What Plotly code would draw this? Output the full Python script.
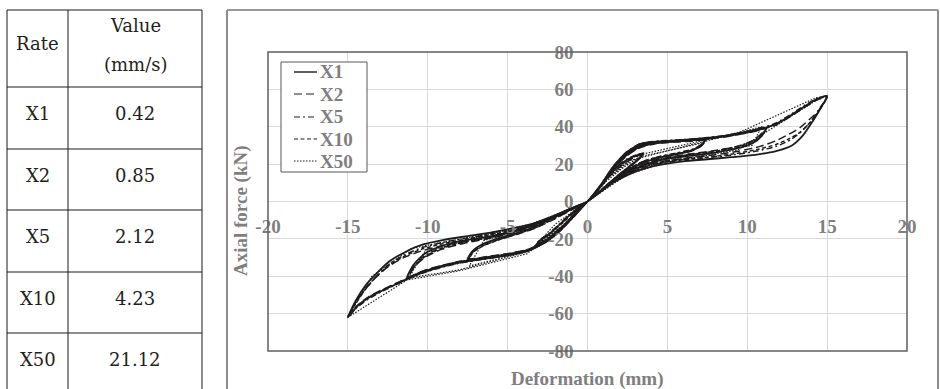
import plotly.graph_objects as go

# ---------------------------------------------------------------------------
# Loading-rate table
# ---------------------------------------------------------------------------
rate_names = ["X1", "X2", "X5", "X10", "X50"]
rate_values = ["0.42", "0.85", "2.12", "4.23", "21.12"]

# Axis ticks
x_ticks = [-20, -15, -10, -5, 0, 5, 10, 15, 20]
y_ticks = [-80, -60, -40, -20, 0, 20, 40, 60, 80]

# ---------------------------------------------------------------------------
# Hysteresis paths (deformation mm, axial force kN), one list per rate.
# Each path runs through the ±3.5, ±7.5, ±11.25 and ±15 mm cycles.
# ---------------------------------------------------------------------------
x1_path = [
    (0, 0), (0.8, 8), (1.6, 16.5), (2.4, 22), (3.0, 24.5), (3.5, 26),
    (3.2, 22.5), (2.6, 18.5), (1.8, 13), (1.0, 7), (0.4, 2.5), (0, 0),
    (-0.7, -6), (-1.4, -12.5), (-2.1, -18.5), (-2.8, -22.5), (-3.3, -24.5),
    (-3.0, -21), (-2.4, -17.5), (-1.7, -12), (-1.0, -6.5), (-0.4, -2.5), (0, 0),
    (0.8, 8.5), (1.6, 17.5), (2.4, 24.5), (3.2, 29), (4.2, 31.3), (5.5, 32.2), (6.5, 32.7), (7.4, 33.3),
    (7.1, 30), (6.5, 27.2), (5.6, 25.3), (4.5, 23.4), (3.5, 20.8), (2.5, 16.3), (1.5, 10.3), (0.7, 4.5), (0, 0),
    (-0.8, -7), (-1.6, -14), (-2.5, -20.5), (-3.5, -25.5), (-4.8, -28), (-6.1, -29.6), (-7.5, -31),
    (-7.2, -26.5), (-6.6, -23), (-5.7, -20), (-4.5, -17), (-3.3, -13.5), (-2.2, -9), (-1.1, -4.5), (0, 0),
    (0.8, 8.5), (1.6, 18), (2.4, 25.5), (3.3, 30.5), (4.5, 32), (6, 32.8), (7.5, 33.8), (8.8, 35.2), (10, 37.3), (11.2, 39.5),
    (10.9, 35), (10.3, 31), (9.4, 28.5), (8, 26.2), (6.5, 24.5), (5, 22.8), (3.8, 20.3), (2.6, 16), (1.5, 10), (0.6, 4), (0, 0),
    (-0.8, -7.5), (-1.7, -15), (-2.6, -21.5), (-3.7, -26), (-5, -28.7), (-6.5, -30.5), (-8, -32.5), (-9.5, -35.5), (-10.5, -38.3), (-11.3, -41),
    (-10.9, -34), (-10.2, -28), (-9.2, -24), (-7.8, -21), (-6, -18.5), (-4.5, -15.5), (-3.2, -12), (-2, -7.5), (-1, -3.5), (0, 0),
    (0.8, 8.5), (1.6, 18.5), (2.4, 26), (3.3, 30.8), (4.5, 32.2), (6, 32.9), (7.5, 34), (9, 35.6), (10.5, 38), (11.8, 41.5),
    (12.8, 46.5), (13.6, 51), (14.4, 55), (15, 56.5),
    (14.6, 50), (14.1, 43), (13.5, 35.5), (12.8, 30), (11.8, 27), (10.5, 25), (9, 23.7), (7.5, 22.6), (6, 21.5),
    (4.8, 20), (3.7, 18), (2.6, 14.5), (1.6, 10), (0.7, 4.5), (0, 0),
    (-0.8, -7.5), (-1.7, -15.5), (-2.7, -22), (-3.8, -26.5), (-5.2, -29), (-6.8, -31), (-8.2, -33), (-9.6, -36),
    (-10.8, -39.5), (-11.8, -43.5), (-12.8, -47.5), (-13.7, -51.5), (-14.4, -56), (-15, -62),
    (-14.5, -53), (-13.9, -45), (-13.2, -38.5), (-12.4, -32), (-11.4, -27), (-10.3, -23), (-9, -20.5), (-7.5, -18.5),
    (-6, -16.5), (-4.5, -14), (-3.3, -11.5), (-2.2, -8), (-1.1, -4), (0, 0),
]

x2_path = [
    (0, 0), (0.8, 7.5), (1.6, 15.5), (2.4, 21), (3.0, 23.8), (3.4, 25),
    (3.1, 22), (2.5, 17.5), (1.7, 12), (0.9, 6.5), (0.4, 2.5), (0, 0),
    (-0.7, -5.5), (-1.4, -12), (-2.1, -18), (-2.7, -22), (-3.2, -24),
    (-2.9, -20.5), (-2.3, -16.5), (-1.6, -11.5), (-0.9, -6), (-0.4, -2.5), (0, 0),
    (0.8, 8), (1.6, 17), (2.4, 24), (3.2, 28.5), (4.2, 30.8), (5.5, 31.8), (6.5, 32.3), (7.4, 32.8),
    (7.1, 29.5), (6.5, 27), (5.6, 25.5), (4.5, 23.8), (3.5, 21.3), (2.5, 16.8), (1.5, 10.8), (0.7, 4.8), (0, 0),
    (-0.8, -6.5), (-1.6, -13.5), (-2.5, -20), (-3.5, -25), (-4.8, -27.6), (-6.1, -29.2), (-7.4, -30.5),
    (-7.1, -26.5), (-6.5, -23.5), (-5.6, -20.5), (-4.4, -17.5), (-3.2, -14), (-2.1, -9.5), (-1.0, -4.5), (0, 0),
    (0.8, 8), (1.6, 17.5), (2.4, 25), (3.3, 30), (4.5, 31.6), (6, 32.4), (7.5, 33.4), (8.8, 34.8), (10, 36.8), (11.1, 39),
    (10.8, 35.5), (10.2, 32), (9.4, 29.5), (8, 27.3), (6.5, 25.5), (5, 23.6), (3.8, 21), (2.6, 16.5), (1.5, 10.5), (0.6, 4.2), (0, 0),
    (-0.8, -7), (-1.7, -14.5), (-2.6, -21), (-3.7, -25.6), (-5, -28.3), (-6.5, -30.1), (-8, -32), (-9.5, -35), (-10.5, -37.8), (-11.2, -40.5),
    (-10.8, -34.5), (-10.1, -29.5), (-9.1, -25.5), (-7.7, -22.3), (-6, -19.5), (-4.5, -16.3), (-3.2, -12.6), (-2, -8), (-1, -3.8), (0, 0),
    (0.8, 8), (1.6, 18), (2.4, 25.5), (3.3, 30.3), (4.5, 31.8), (6, 32.6), (7.5, 33.6), (9, 35.2), (10.5, 37.6), (11.8, 41),
    (12.8, 46), (13.6, 50.5), (14.4, 54.5), (15, 56),
    (14.5, 49), (13.9, 44), (13.3, 39.5), (12.6, 36), (11.8, 32.5), (10.8, 29.5), (9.5, 27), (8, 25), (6.5, 23.5),
    (5, 22), (3.7, 19.5), (2.6, 15.5), (1.6, 10.5), (0.7, 4.5), (0, 0),
    (-0.8, -7), (-1.7, -15), (-2.7, -21.5), (-3.8, -26), (-5.2, -28.6), (-6.8, -30.6), (-8.2, -32.6), (-9.6, -35.6),
    (-10.8, -39), (-11.8, -43), (-12.8, -47), (-13.7, -51), (-14.4, -55.5), (-14.9, -61),
    (-14.6, -55), (-14, -48), (-13.3, -41), (-12.5, -35), (-11.5, -30), (-10.4, -26.5), (-9, -23.5), (-7.5, -21),
    (-6, -18.5), (-4.5, -15.5), (-3.2, -12), (-2, -7.5), (-1, -3.5), (0, 0),
]

x5_path = [
    (0, 0), (0.8, 8.3), (1.6, 16.8), (2.4, 22.3), (3.0, 24.8), (3.5, 25.6),
    (3.2, 22.8), (2.6, 18.8), (1.8, 13.3), (1.0, 7.2), (0.4, 2.7), (0, 0),
    (-0.7, -6.2), (-1.4, -12.8), (-2.1, -18.8), (-2.8, -22.8), (-3.3, -24.2),
    (-3.0, -20.6), (-2.4, -17), (-1.7, -11.6), (-1.0, -6.2), (-0.4, -2.3), (0, 0),
    (0.8, 8.6), (1.6, 17.8), (2.4, 24.8), (3.2, 29.3), (4.2, 31.5), (5.5, 32.4), (6.5, 32.9), (7.4, 33.5),
    (7.1, 30.3), (6.5, 27.8), (5.6, 26), (4.5, 24.1), (3.5, 21.5), (2.5, 16.8), (1.5, 10.6), (0.7, 4.6), (0, 0),
    (-0.8, -7.2), (-1.6, -14.3), (-2.5, -20.8), (-3.5, -25.8), (-4.8, -28.3), (-6.1, -29.9), (-7.5, -31.3),
    (-7.2, -27), (-6.6, -23.8), (-5.7, -20.8), (-4.5, -17.6), (-3.3, -14), (-2.2, -9.3), (-1.1, -4.6), (0, 0),
    (0.8, 8.6), (1.6, 18.2), (2.4, 25.7), (3.3, 30.7), (4.5, 32.2), (6, 33), (7.5, 34), (8.8, 35.5), (10, 37.6), (11.2, 39.8),
    (10.9, 35.8), (10.3, 32.2), (9.4, 29.6), (8, 27), (6.5, 25.2), (5, 23.4), (3.8, 20.8), (2.6, 16.3), (1.5, 10.2), (0.6, 4.1), (0, 0),
    (-0.8, -7.6), (-1.7, -15.2), (-2.6, -21.7), (-3.7, -26.2), (-5, -28.9), (-6.5, -30.8), (-8, -32.8), (-9.5, -35.8), (-10.5, -38.6), (-11.3, -41.3),
    (-10.9, -35), (-10.2, -29), (-9.2, -25), (-7.8, -21.8), (-6, -19.2), (-4.5, -16), (-3.2, -12.3), (-2, -7.7), (-1, -3.6), (0, 0),
    (0.8, 8.6), (1.6, 18.6), (2.4, 26.2), (3.3, 31), (4.5, 32.4), (6, 33.1), (7.5, 34.2), (9, 35.8), (10.5, 38.3), (11.8, 42),
    (12.8, 47), (13.6, 51.5), (14.4, 55.3), (15, 56.3),
    (14.5, 49.5), (14, 43), (13.4, 37.5), (12.7, 33), (11.8, 29.5), (10.6, 27), (9.2, 25), (7.6, 23.6), (6, 22.3),
    (4.8, 20.8), (3.7, 18.7), (2.6, 15), (1.6, 10.2), (0.7, 4.5), (0, 0),
    (-0.8, -7.6), (-1.7, -15.7), (-2.7, -22.2), (-3.8, -26.8), (-5.2, -29.3), (-6.8, -31.3), (-8.2, -33.3), (-9.6, -36.3),
    (-10.8, -39.8), (-11.8, -43.8), (-12.8, -47.8), (-13.7, -52), (-14.4, -56.5), (-15, -61.8),
    (-14.5, -54), (-13.9, -46.5), (-13.2, -40), (-12.4, -33.5), (-11.4, -28.3), (-10.3, -24.5), (-9, -21.8), (-7.5, -19.5),
    (-6, -17.3), (-4.5, -14.7), (-3.3, -11.8), (-2.2, -8.2), (-1.1, -4), (0, 0),
]

x10_path = [
    (0, 0), (0.8, 7.8), (1.6, 16), (2.4, 21.5), (3.0, 24.2), (3.4, 25.3),
    (3.1, 22.2), (2.5, 18), (1.7, 12.5), (0.9, 6.7), (0.4, 2.6), (0, 0),
    (-0.7, -5.8), (-1.4, -12.2), (-2.1, -18.2), (-2.7, -22.2), (-3.2, -24.3),
    (-2.9, -21), (-2.3, -17), (-1.6, -11.8), (-0.9, -6.2), (-0.4, -2.4), (0, 0),
    (0.8, 8.2), (1.6, 17.2), (2.4, 24.2), (3.2, 28.8), (4.2, 31), (5.5, 32), (6.5, 32.5), (7.4, 33),
    (7.1, 29.8), (6.5, 27.4), (5.6, 25.8), (4.5, 24), (3.5, 21.6), (2.5, 17), (1.5, 10.8), (0.7, 4.7), (0, 0),
    (-0.8, -6.8), (-1.6, -13.8), (-2.5, -20.2), (-3.5, -25.2), (-4.8, -27.8), (-6.1, -29.4), (-7.4, -30.8),
    (-7.1, -26.8), (-6.5, -23.6), (-5.6, -20.6), (-4.4, -17.4), (-3.2, -13.8), (-2.1, -9.3), (-1.0, -4.4), (0, 0),
    (0.8, 8.2), (1.6, 17.7), (2.4, 25.2), (3.3, 30.2), (4.5, 31.8), (6, 32.6), (7.5, 33.6), (8.8, 35), (10, 37), (11.2, 39.2),
    (10.9, 35.3), (10.3, 31.8), (9.4, 29.2), (8, 26.8), (6.5, 25), (5, 23.3), (3.8, 20.7), (2.6, 16.3), (1.5, 10.3), (0.6, 4.1), (0, 0),
    (-0.8, -7.2), (-1.7, -14.7), (-2.6, -21.2), (-3.7, -25.8), (-5, -28.5), (-6.5, -30.3), (-8, -32.2), (-9.5, -35.2), (-10.5, -38), (-11.2, -40.8),
    (-10.8, -34.3), (-10.1, -29), (-9.1, -25), (-7.7, -21.8), (-6, -19), (-4.5, -15.9), (-3.2, -12.3), (-2, -7.8), (-1, -3.7), (0, 0),
    (0.8, 8.2), (1.6, 18.2), (2.4, 25.7), (3.3, 30.5), (4.5, 32), (6, 32.7), (7.5, 33.8), (9, 35.4), (10.5, 37.8), (11.8, 41.3),
    (12.8, 46.3), (13.6, 50.8), (14.4, 54.8), (15, 56.2),
    (14.5, 48.5), (13.9, 42), (13.3, 37), (12.6, 33.5), (11.8, 30.5), (10.7, 28), (9.4, 25.8), (7.8, 24), (6.3, 22.6),
    (4.9, 21.2), (3.7, 18.9), (2.6, 15.2), (1.6, 10.3), (0.7, 4.5), (0, 0),
    (-0.8, -7.2), (-1.7, -15.2), (-2.7, -21.7), (-3.8, -26.2), (-5.2, -28.8), (-6.8, -30.8), (-8.2, -32.8), (-9.6, -35.8),
    (-10.8, -39.2), (-11.8, -43.2), (-12.8, -47.2), (-13.7, -51.2), (-14.4, -55.8), (-15, -61.5),
    (-14.5, -54.5), (-13.9, -47), (-13.2, -40), (-12.4, -34), (-11.4, -29), (-10.3, -25.3), (-9, -22.5), (-7.5, -20),
    (-6, -17.7), (-4.5, -15), (-3.3, -12), (-2.2, -8.3), (-1.1, -4.1), (0, 0),
]

# The fastest rate is sampled sparsely, so its cycles are made of long chords.
x50_path = [
    (0, 0), (1.2, 11), (2.5, 20), (3.4, 24.5), (2.2, 14), (0.8, 5), (0, 0),
    (-1.2, -10), (-2.4, -19), (-3.3, -24), (-2.0, -12), (-0.7, -4), (0, 0),
    (1.3, 13), (3.3, 24), (7.3, 31.5), (6.0, 24), (3.5, 19), (1.5, 10), (0, 0),
    (-1.4, -12), (-3.6, -26.5), (-7.4, -34.5), (-6.5, -21), (-3.5, -13), (-1.4, -5), (0, 0),
    (1.3, 13), (2.7, 22), (10.9, 40), (10.3, 30), (7, 24.5), (3.5, 19), (1.4, 9.5), (0, 0),
    (-1.4, -12), (-3.8, -27), (-8, -36.5), (-11.2, -41), (-10.2, -27), (-7, -19.5), (-3.5, -12), (-1.3, -5), (0, 0),
    (1.4, 14), (3, 24.5), (9.5, 37), (14.3, 55.5), (15, 56.5), (14.3, 54), (9.4, 27.6), (5, 21), (2.5, 14.5), (0, 0),
    (-1.4, -12.5), (-3.8, -28), (-8, -37), (-11.3, -42), (-15, -62), (-13.5, -40), (-11, -25), (-7, -18.5),
    (-3.5, -12), (-1.2, -4.5), (0, 0),
]

# name, path, dash pattern, line width, line shape
series = [
    ("X1", x1_path, "solid", 1.8, "spline"),
    ("X2", x2_path, "8px,4px", 1.5, "spline"),
    ("X5", x5_path, "6px,3px,2px,3px", 1.5, "spline"),
    ("X10", x10_path, "4px,2.5px", 1.5, "spline"),
    ("X50", x50_path, "1.5px,1.5px", 1.2, "linear"),
]

# ---------------------------------------------------------------------------
# Figure geometry (pixels)
# ---------------------------------------------------------------------------
W, H = 940, 389
PL, PR, PT, PB = 268, 907, 52, 351


def px(x):
    return (x - PL) / (PR - PL)


def py(y):
    return (PB - y) / (PB - PT)


GREY_TXT = "#7f7f7f"
SERIF = "Liberation Serif"
TABLE_FONT = "DejaVu Serif"
LINE_CLR = "#1e1c1c"

fig = go.Figure()
for name, path, dash, width, shape in series:
    xs = [p[0] for p in path]
    ys = [p[1] for p in path]
    line = dict(color=LINE_CLR, width=width, dash=dash, shape=shape)
    if shape == "spline":
        line["smoothing"] = 0.6
    fig.add_trace(go.Scatter(x=xs, y=ys, mode="lines", name=name, line=line,
                             showlegend=False))

axis_common = dict(
    showgrid=True, gridcolor="#d9d9d9", gridwidth=1,
    zeroline=True, zerolinecolor="#d9d9d9", zerolinewidth=1,
    showline=False, ticks="",
    tickfont=dict(family=SERIF, size=19, color=GREY_TXT),
    anchor="free", position=0.5,
)

fig.update_layout(
    width=W, height=H,
    margin=dict(l=PL, r=W - PR, t=PT, b=H - PB),
    paper_bgcolor="white", plot_bgcolor="white",
    xaxis=dict(range=[-20, 20], tickmode="array", tickvals=x_ticks,
               ticktext=[f"<b>{v}</b>" for v in x_ticks],
               ticklabelstandoff=11, **axis_common),
    yaxis=dict(range=[-80, 80], tickmode="array", tickvals=y_ticks,
               ticktext=[f"<b>{v}</b>" for v in y_ticks],
               ticklabelstandoff=14, **axis_common),
    showlegend=False,
)

shapes = []


def seg(x0, y0, x1, y1, color="#1a1a1a", width=1, dash="solid", layer="below"):
    shapes.append(dict(type="line", xref="paper", yref="paper", layer=layer,
                       x0=px(x0), y0=py(y0), x1=px(x1), y1=py(y1),
                       line=dict(color=color, width=width, dash=dash)))


# plot-area frame
shapes.append(dict(type="rect", xref="paper", yref="paper", x0=0, y0=0, x1=1, y1=1,
                   line=dict(color="#5f5f5f", width=1.5), layer="above"))

# table grid
TBL_L, TBL_M, TBL_R, TBL_T = 7, 68, 202, 10
row_tops = [87, 149, 210, 272, 333]
seg(TBL_L, TBL_T, TBL_R, TBL_T)
for xv in (TBL_L, TBL_M, TBL_R):
    seg(xv, TBL_T, xv, H)
for yv in row_tops:
    seg(TBL_L, yv, TBL_R, yv)

# chart panel frame
seg(227, 10, 938, 10, color="#333333", width=1)
seg(227, 10, 227, H, color="#8c8c8c", width=2)
seg(938, 10, 938, H, color="#8c8c8c", width=2)

annotations = []


def label(text, x, y, size, color, angle=0, anchor="center", family=SERIF):
    annotations.append(dict(
        text=text, xref="paper", yref="paper", x=px(x), y=py(y),
        xanchor=anchor, yanchor="middle", showarrow=False, textangle=angle,
        font=dict(family=family, size=size, color=color),
    ))


TBL_TXT = "#231f20"
label("Rate", 37.5, 43, 18, TBL_TXT, family=TABLE_FONT)
label("Value", 135, 25, 18, TBL_TXT, family=TABLE_FONT)
label("(mm/s)", 135, 65, 18, TBL_TXT, family=TABLE_FONT)
for top, nm, val in zip(row_tops, rate_names, rate_values):
    label(nm, 37.5, top + 26, 18, TBL_TXT, family=TABLE_FONT)
    label(val, 135, top + 26, 18, TBL_TXT, family=TABLE_FONT)

label("<b>Axial force (kN)</b>", 241, 211, 19, GREY_TXT, angle=-90)
label("<b>Deformation (mm)</b>", 587, 379, 19, GREY_TXT)

# legend box with short line samples
LG_L, LG_R, LG_T, LG_B = 281, 367, 62, 172
shapes.append(dict(type="rect", xref="paper", yref="paper",
                   x0=px(LG_L), x1=px(LG_R), y0=py(LG_B), y1=py(LG_T),
                   line=dict(color="#595959", width=1), fillcolor="white", layer="above"))
legend_rows = [72, 94, 117, 139, 161]
for yc, (name, _, dash, width, _) in zip(legend_rows, series):
    seg(294, yc, 317, yc, color=LINE_CLR, width=max(width - 0.4, 1), dash=dash, layer="above")
    label(f"<b>{name}</b>", 318, yc, 19, GREY_TXT, anchor="left")

fig.update_layout(shapes=shapes, annotations=annotations)
fig.write_html("out.html")
